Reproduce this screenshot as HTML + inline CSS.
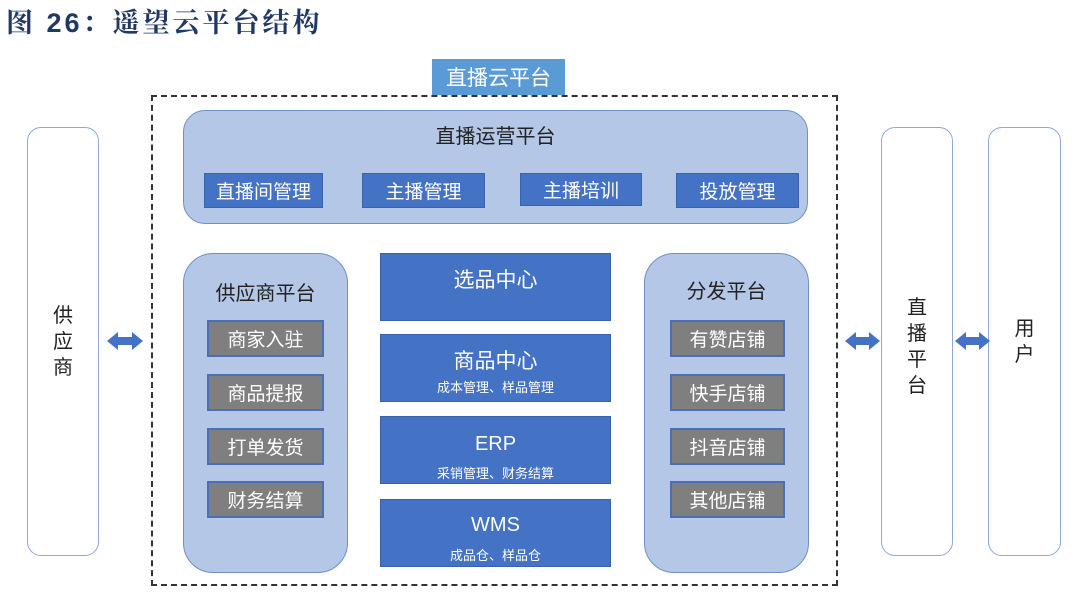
<!DOCTYPE html><html><head><meta charset="utf-8"><style>
body{margin:0;width:1080px;height:599px;background:#fff;position:relative;overflow:hidden;font-family:"Liberation Sans","Noto Sans CJK SC",sans-serif}
div{position:absolute;box-sizing:border-box}
.c{display:flex;align-items:center;justify-content:center;text-align:center}
.lb{background:#b4c7e7;border:1.5px solid #6f8fc9}
.db{background:#4472c4;color:#fff;border:1px solid #3a62aa}
.gr{background:#7f7f7f;color:#fff;border:2px solid #4a6fb5;font-size:19px}
.ob{background:#fff;border:1.5px solid #8fa8d6;border-radius:14px}
</style></head><body>
<div style="left:6px;top:1px;font-size:27px;font-weight:bold;color:#1f3864;letter-spacing:3px;font-family:'Liberation Sans','Noto Serif CJK SC',serif">图 26：遥望云平台结构</div>
<div class="c" style="left:432px;top:59px;width:133px;height:36px;background:#5b9bd5;color:#fff;font-size:21px">直播云平台</div>
<div style="left:151px;top:95px;width:687px;height:491px;border:2px dashed #333"></div>
<div class="lb" style="left:183px;top:110px;width:625px;height:114px;border-radius:22px"></div>
<div class="c" style="left:183px;top:117px;width:625px;height:34px;font-size:20px;color:#222">直播运营平台</div>
<div class="c db" style="left:204px;top:173px;width:119px;height:35px;font-size:19px">直播间管理</div>
<div class="c db" style="left:362px;top:173px;width:123px;height:35px;font-size:19px">主播管理</div>
<div class="c db" style="left:520px;top:173px;width:122px;height:33px;font-size:19px">主播培训</div>
<div class="c db" style="left:676px;top:173px;width:123px;height:35px;font-size:19px">投放管理</div>
<div class="lb" style="left:183px;top:253px;width:165px;height:320px;border-radius:30px"></div>
<div class="c" style="left:183px;top:274px;width:165px;height:34px;font-size:20px;color:#222">供应商平台</div>
<div class="c gr" style="left:207px;top:320px;width:117px;height:37px">商家入驻</div>
<div class="c gr" style="left:207px;top:374px;width:117px;height:37px">商品提报</div>
<div class="c gr" style="left:207px;top:428px;width:117px;height:37px">打单发货</div>
<div class="c gr" style="left:207px;top:481px;width:117px;height:37px">财务结算</div>
<div class="lb" style="left:644px;top:253px;width:165px;height:320px;border-radius:30px"></div>
<div class="c" style="left:644px;top:272px;width:165px;height:34px;font-size:20px;color:#222">分发平台</div>
<div class="c gr" style="left:670px;top:320px;width:115px;height:37px">有赞店铺</div>
<div class="c gr" style="left:670px;top:374px;width:115px;height:37px">快手店铺</div>
<div class="c gr" style="left:670px;top:428px;width:115px;height:37px">抖音店铺</div>
<div class="c gr" style="left:670px;top:481px;width:115px;height:37px">其他店铺</div>
<div class="db" style="left:380px;top:253px;width:231px;height:68px"><div class="c" style="left:0;top:10px;width:100%;font-size:21px">选品中心</div></div>
<div class="db" style="left:380px;top:334px;width:231px;height:68px"><div class="c" style="left:0;top:10px;width:100%;font-size:21px">商品中心</div><div class="c" style="left:0;top:42px;width:100%;font-size:13px">成本管理、样品管理</div></div>
<div class="db" style="left:380px;top:416px;width:231px;height:68px"><div class="c" style="left:0;top:16px;width:100%;font-size:20px">ERP</div><div class="c" style="left:0;top:46px;width:100%;font-size:13px">采销管理、财务结算</div></div>
<div class="db" style="left:380px;top:499px;width:231px;height:68px"><div class="c" style="left:0;top:14px;width:100%;font-size:20px">WMS</div><div class="c" style="left:0;top:45px;width:100%;font-size:13px">成品仓、样品仓</div></div>
<div class="ob c" style="left:27px;top:127px;width:72px;height:429px;font-size:20px;color:#222;line-height:26px">供<br>应<br>商</div>
<div class="ob c" style="left:881px;top:127px;width:72px;height:429px;font-size:20px;color:#222;line-height:26px;padding-top:10px">直<br>播<br>平<br>台</div>
<div class="ob c" style="left:988px;top:127px;width:73px;height:429px;font-size:20px;color:#222;line-height:26px">用<br>户</div>
<svg style="position:absolute;left:0;top:0" width="1080" height="599">
<g fill="#4472c4">
<polygon points="107,341 118,332 118,337 132,337 132,332 143,341 132,350 132,345 118,345 118,350"/>
<polygon points="845,341 856,332 856,337 869,337 869,332 880,341 869,350 869,345 856,345 856,350"/>
<polygon points="955,341 966,332 966,337 979,337 979,332 990,341 979,350 979,345 966,345 966,350"/>
</g></svg>
</body></html>
